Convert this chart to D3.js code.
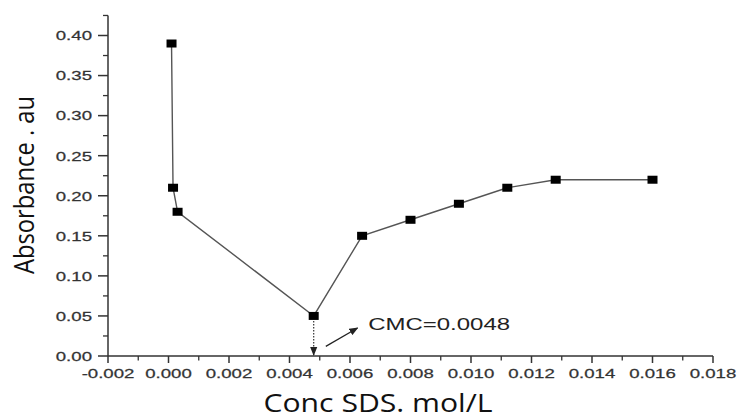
<!DOCTYPE html>
<html><head><meta charset="utf-8">
<script src="https://cdn.jsdelivr.net/npm/d3@7"></script>
<style>body{margin:0;background:#fff}svg{display:block}</style>
</head><body>
<svg id="chart" width="738" height="418"></svg>
<script>
const concSDS = [0.0001, 0.00015, 0.0003, 0.0048, 0.0064, 0.0080, 0.0096, 0.0112, 0.0128, 0.0160];
const absorbance = [0.39, 0.21, 0.18, 0.05, 0.15, 0.17, 0.19, 0.21, 0.22, 0.22];
const xTicks = [-0.002, 0.000, 0.002, 0.004, 0.006, 0.008, 0.010, 0.012, 0.014, 0.016, 0.018];
const yTicks = [0.00, 0.05, 0.10, 0.15, 0.20, 0.25, 0.30, 0.35, 0.40];
const cmcValue = 0.0048;
const cmcLabel = "CMC=0.0048";
const xTitle = "Conc SDS. mol/L";
const yTitle = "Absorbance . au";

const svg = d3.select("#chart");
const x = d3.scaleLinear().domain([-0.002, 0.018]).range([108, 713]);
const y = d3.scaleLinear().domain([0, 0.40]).range([356, 35.5]);
const axisColor = "#333";
const tickFont = "Liberation Sans, Arial, sans-serif";
const stretch = 1.38;

const xMinor = d3.range(-0.001, 0.018, 0.002);
const yMinor = d3.range(0.025, 0.43, 0.05);

const defs = svg.append("defs");
defs.append("marker").attr("id","ah").attr("viewBox","0 0 10 10").attr("refX",9).attr("refY",5)
  .attr("markerWidth",9).attr("markerHeight",9).attr("orient","auto-start-reverse").attr("markerUnits","userSpaceOnUse")
  .append("path").attr("d","M0,1 L10,5 L0,9 Z").attr("fill","#222");

// Y axis
const gy = svg.append("g").attr("transform",`translate(${x(-0.002)},0)`);
gy.append("line").attr("y1", y(0.425)).attr("y2", y(0)).attr("stroke",axisColor).attr("stroke-width",1.5);
gy.selectAll(".ymaj").data(yTicks).join("line").attr("x1",-10).attr("x2",0)
  .attr("y1",d=>y(d)).attr("y2",d=>y(d)).attr("stroke",axisColor).attr("stroke-width",1.5);
gy.selectAll(".ymin").data(yMinor).join("line").attr("x1",-5).attr("x2",0)
  .attr("y1",d=>y(d)).attr("y2",d=>y(d)).attr("stroke",axisColor).attr("stroke-width",1.3);
gy.selectAll("text").data(yTicks).join("text")
  .attr("transform",d=>`translate(-16,${y(d)}) scale(${stretch},1)`).attr("dy","0.36em")
  .attr("text-anchor","end").attr("font-family",tickFont).attr("font-size",13.5)
  .attr("fill","#333").attr("stroke","#333").attr("stroke-width",0.25).text(d=>d3.format(".2f")(d));

// X axis
const gx = svg.append("g").attr("transform",`translate(0,${y(0)})`);
gx.append("line").attr("x1", x(-0.002)).attr("x2", x(0.018)).attr("stroke",axisColor).attr("stroke-width",1.5);
gx.selectAll(".xmaj").data(xTicks).join("line").attr("y1",0).attr("y2",7)
  .attr("x1",d=>x(d)).attr("x2",d=>x(d)).attr("stroke",axisColor).attr("stroke-width",1.5);
gx.selectAll(".xmin").data(xMinor).join("line").attr("y1",0).attr("y2",4.5)
  .attr("x1",d=>x(d)).attr("x2",d=>x(d)).attr("stroke",axisColor).attr("stroke-width",1.3);
gx.selectAll("text").data(xTicks).join("text")
  .attr("transform",d=>`translate(${x(d)},22) scale(${stretch},1)`)
  .attr("text-anchor","middle").attr("font-family",tickFont).attr("font-size",13.5)
  .attr("fill","#333").attr("stroke","#333").attr("stroke-width",0.25).text(d=>d3.format(".3f")(d).replace("−","-"));

// titles
svg.append("text").attr("transform","translate(378,412) scale(1.16,1)").attr("text-anchor","middle")
  .attr("font-family","Open Sans, sans-serif").attr("font-size",26).attr("fill","#111").text(xTitle);
svg.append("text").attr("transform",`translate(34,185) rotate(-90) scale(0.88,1)`).attr("text-anchor","middle")
  .attr("font-family","Open Sans, sans-serif").attr("font-size",27)
  .attr("fill","#111").text(yTitle);

// data line
const pts = concSDS.map((c,i)=>[c, absorbance[i]]);
svg.append("path").datum(pts).attr("fill","none").attr("stroke","#555").attr("stroke-width",1.4)
  .attr("d", d3.line().x(d=>x(d[0])).y(d=>y(d[1])));

// CMC dotted line with arrow
const cmcAbs = absorbance[concSDS.indexOf(cmcValue)];
svg.append("line").attr("x1",x(cmcValue)).attr("x2",x(cmcValue)).attr("y1",y(cmcAbs)+5).attr("y2",y(0)-1)
  .attr("stroke","#333").attr("stroke-width",1.2).attr("stroke-dasharray","1.5,1.5").attr("marker-end","url(#ah)");
// pointer arrow
svg.append("line").attr("x1",x(0.0052)).attr("y1",y(0.012)).attr("x2",x(0.00625)).attr("y2",y(0.035))
  .attr("stroke","#222").attr("stroke-width",1.2).attr("marker-end","url(#ah)");
svg.append("text").attr("transform",`translate(${x(0.0066)},${y(0.032)}) scale(1.5,1)`)
  .attr("font-family",tickFont).attr("font-size",16).attr("fill","#222").text(cmcLabel);

// markers
svg.selectAll(".pt").data(pts).join("rect").attr("x",d=>x(d[0])-5).attr("y",d=>y(d[1])-4)
  .attr("width",10).attr("height",8).attr("fill","#000");
</script>
</body></html>
